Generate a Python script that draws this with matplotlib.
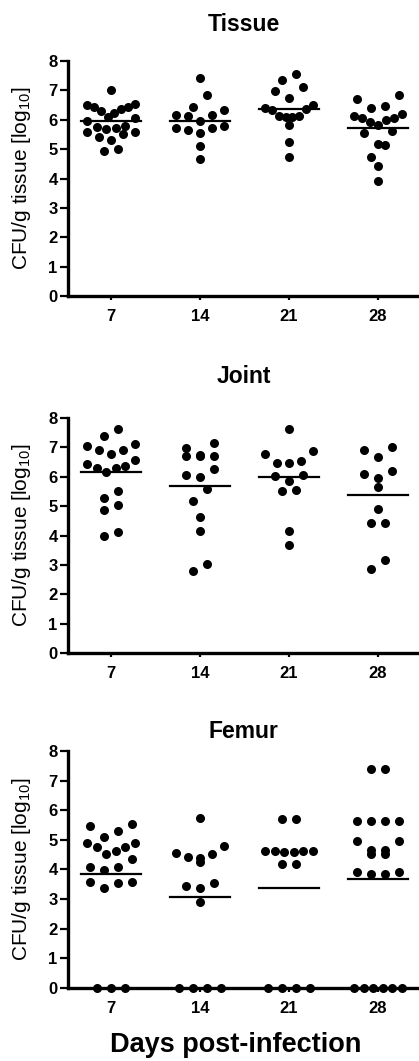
import numpy as np
import matplotlib
matplotlib.use('Agg')
import matplotlib.pyplot as plt

# values, log10 CFU per group
days = ['7', '14', '21', '28']

tissue = [
    [7.03, 6.52, 6.45, 6.35, 6.5, 6.42, 6.3, 6.22, 6.1, 6.05, 5.95, 5.78, 5.72,
     5.58, 5.52, 5.75, 5.68, 5.6, 5.4, 5.3, 4.92, 5.0],
    [7.42, 6.83, 6.44, 6.17, 6.12, 6.15, 6.32, 5.96, 5.73, 5.64, 5.55, 5.72,
     5.78, 5.11, 4.67],
    [7.55, 7.34, 6.98, 7.1, 6.75, 6.41, 6.38, 6.49, 6.32, 6.12, 6.12, 5.81,
     6.1, 6.1, 5.24, 4.73],
    [6.69, 6.83, 6.46, 6.41, 6.21, 6.07, 6.07, 6.12, 6.0, 5.93, 5.81, 5.55,
     5.62, 5.13, 5.19, 4.73, 4.42, 3.92],
]
tissue_means = [5.97, 5.96, 6.35, 5.73]

joint = [
    [7.63, 7.38, 7.12, 6.92, 6.79, 6.9, 7.04, 6.58, 6.38, 6.3, 6.15, 6.3, 6.45,
     5.5, 5.28, 5.05, 4.88, 3.97, 4.12],
    [7.15, 6.72, 6.72, 6.7, 6.73, 6.99, 6.28, 5.99, 6.05, 5.6, 5.19, 4.63,
     4.14, 3.04, 2.78],
    [7.64, 6.79, 6.87, 6.47, 6.55, 6.47, 6.02, 6.05, 5.85, 5.56, 5.51, 4.14,
     3.69],
    [7.01, 6.9, 6.67, 6.19, 5.96, 6.1, 5.65, 4.9, 4.43, 4.41, 3.18, 2.86],
]
joint_means = [6.15, 5.68, 5.99, 5.37]

femur = [
    [5.47, 5.11, 5.31, 5.53, 4.89, 4.75, 4.61, 4.53, 4.75, 4.89, 4.1, 3.99,
     4.1, 4.35, 3.57, 3.54, 3.37, 3.57, 0, 0, 0],
    [5.75, 4.78, 4.52, 4.38, 4.24, 4.42, 4.57, 3.54, 3.37, 3.43, 2.89,
     0, 0, 0, 0],
    [5.7, 5.7, 4.6, 4.62, 4.64, 4.64, 4.62, 4.6, 4.19, 4.19, 0, 0, 0, 0],
    [7.38, 7.38, 5.62, 5.62, 5.62, 5.62, 4.97, 4.97, 4.66, 4.53, 4.53, 4.66,
     3.9, 3.85, 3.85, 3.9, 0, 0, 0, 0, 0, 0],
]
femur_means = [3.84, 3.07, 3.39, 3.69]

plt.rcParams['font.family'] = ['Liberation Sans', 'DejaVu Sans']
plt.rcParams['mathtext.fontset'] = 'custom'
plt.rcParams['mathtext.rm'] = 'Liberation Sans'
plt.rcParams['mathtext.default'] = 'rm'


def scatter_rows(vals, ax, binh=0.43, step=14.0, span=48.0):
    # prism-style column scatter: group into rows from the top,
    # spread each row symmetrically, lowest values in the middle
    p0 = ax.transData.transform((0, 0))
    p1 = ax.transData.transform((1, 1))
    sx = p1[0] - p0[0]
    order = list(np.argsort(vals)[::-1])
    offs = np.zeros(len(vals))
    while order:
        top = vals[order[0]]
        row = [i for i in order if vals[i] >= top - binh]
        order = [i for i in order if i not in row]
        n = len(row)
        if n == 1:
            continue
        s = min(step, span / (n - 1))
        pos = (np.arange(n) - (n - 1) / 2) * s
        pos = sorted(pos, key=lambda p: (abs(p), p))
        row = sorted(row, key=lambda i: vals[i])
        for k, i in enumerate(row):
            offs[i] = pos[k] / sx
    return offs


fig = plt.figure(figsize=(4.19, 10.61), dpi=100)

panels = [
    ('Tissue', tissue, tissue_means, [0.1623, 0.7210, 0.8377, 0.2215], 21.6),
    ('Joint', joint, joint_means, [0.1623, 0.3845, 0.8377, 0.2215], 25.0),
    ('Femur', femur, femur_means, [0.1623, 0.0688, 0.8377, 0.2234], 9.4),
]

for name, groups, means, rect, tpad in panels:
    ax = fig.add_axes(rect)
    ax.set_xlim(0.517, 4.46)
    ax.set_ylim(0, 8)
    for i, (vals, m) in enumerate(zip(groups, means)):
        vals = np.array(vals)
        xo = scatter_rows(vals, ax)
        ax.plot(i + 1 + xo, vals, 'o', color='black', ms=6.5, mew=0,
                clip_on=False, zorder=3)
        ax.plot([i + 1 - 0.333, i + 1 + 0.333], [m, m], color='black',
                lw=1.6, zorder=4)
    ax.set_xticks(range(1, 5))
    ax.set_xticklabels(days)
    ax.set_yticks(range(9))
    for s in ['top', 'right']:
        ax.spines[s].set_visible(False)
    for s in ['left', 'bottom']:
        ax.spines[s].set_linewidth(2.4)
    ax.tick_params(axis='y', length=5.5, width=1.6, pad=2, labelsize=12)
    ax.tick_params(axis='x', length=3, width=1.6, pad=6, labelsize=12)
    for lab in ax.get_xticklabels() + ax.get_yticklabels():
        lab.set_fontweight('bold')
    ax.set_ylabel('CFU/g tissue [log$_{10}$]', fontsize=15)
    ax.yaxis.set_label_coords(-0.10, 0.5)
    ax.set_title(name, fontsize=16.5, fontweight='bold', pad=tpad)

fig.text(0.563, 1 - 1045 / 1061, 'Days post-infection', fontsize=19.5,
         fontweight='bold', ha='center', va='center')

fig.savefig('out.png', dpi=100)
